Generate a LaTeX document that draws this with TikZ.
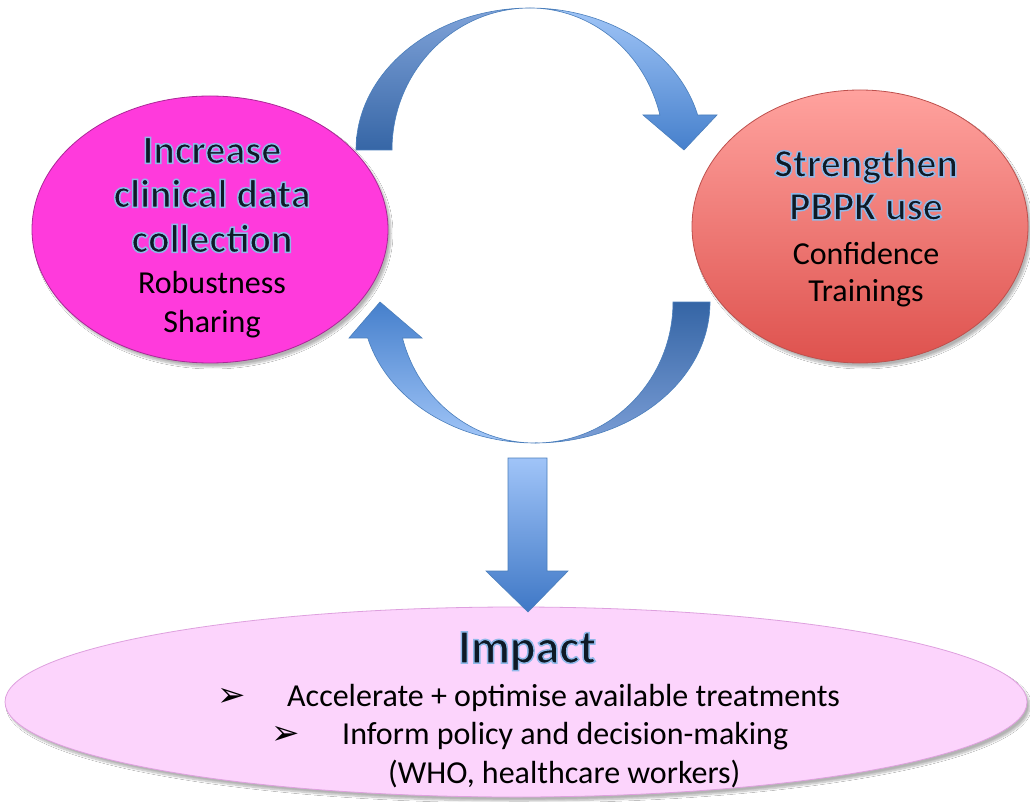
\documentclass[tikz,border=0pt]{standalone}
\usepackage{fontspec}
\setmainfont{Carlito}
\newfontfamily\symfont{DejaVu Sans}
\usepackage{tikz}
\usetikzlibrary{shapes.geometric,positioning,shadows.blur}

\definecolor{titleink}{RGB}{14,26,38}
\definecolor{arrowline}{RGB}{74,126,187}
\definecolor{dataPink}{RGB}{255,58,220}
\definecolor{dataEdge}{RGB}{170,40,150}
\definecolor{pbpkTop}{RGB}{255,162,158}
\definecolor{pbpkBottom}{RGB}{222,82,78}
\definecolor{pbpkEdge}{RGB}{190,80,77}
\definecolor{impactFill}{RGB}{252,212,252}
\definecolor{impactEdge}{RGB}{222,160,222}

\newcommand{\glow}[1]{\special{pdf:literal direct 0.56 0.72 0.91 RG 2 Tr 1.5 w}#1\special{pdf:literal direct 0 Tr 1 w}}
\newcommand{\headfont}{\fontsize{40}{44}\selectfont\bfseries\color{titleink}}
\newcommand{\bulletmark}{{\symfont\fontsize{34}{38}\selectfont ➢}}

\begin{document}
\begin{tikzpicture}[x=1pt, y=-1pt,
    blob/.style={ellipse, draw, line width=0.8pt, inner sep=0pt,
      blur shadow={shadow xshift=3pt, shadow yshift=-4pt, shadow opacity=30, shadow blur steps=8}},
    blobtext/.style={align=center, inner sep=0pt, font=\fontsize{32}{39}\selectfont},
    point/.style={anchor=base west, inner sep=0pt, font=\fontsize{32}{39}\selectfont},
    band/.style={draw=arrowline, line width=0.6pt}
  ]
    \fill[white] (0,0) rectangle (1030,802);
    \useasboundingbox (0,0) rectangle (1030,802);

    \node[blob, fill=dataPink, draw=dataEdge, minimum width=356pt, minimum height=267pt] (collect) at (210,229.5) {};
    \node[blob, top color=pbpkTop, bottom color=pbpkBottom, draw=pbpkEdge, minimum width=336pt, minimum height=273pt] (pbpk) at (860,226.5) {};
    \node[blob, fill=impactFill, draw=impactEdge, minimum width=1022pt, minimum height=190pt] (impact) at (516,702) {};

    \shadedraw[band, top color={rgb,255:red,128;green,163;blue,217}, bottom color={rgb,255:red,54;green,102;blue,166}]
      (356,150) arc[start angle=180, end angle=270, x radius=174, y radius=142]
      arc[start angle=270, end angle=180, x radius=138, y radius=142] -- cycle;
    \shadedraw[band, top color={rgb,255:red,160;green,197;blue,247}, bottom color={rgb,255:red,70;green,128;blue,204}]
      (530,8) arc[start angle=270, end angle=345.73, x radius=173, y radius=142]
      -- (717,115) -- (684,150) -- (643,115) -- (659.9,115)
      arc[start angle=345.73, end angle=270, x radius=134, y radius=142] -- cycle;

    \shadedraw[band, top color={rgb,255:red,53;green,101;blue,165}, bottom color={rgb,255:red,123;green,158;blue,214}]
      (710,302) arc[start angle=0, end angle=90, x radius=175, y radius=141]
      arc[start angle=90, end angle=0, x radius=138, y radius=141] -- cycle;
    \shadedraw[band, top color={rgb,255:red,70;green,128;blue,204}, bottom color={rgb,255:red,162;green,198;blue,248}]
      (535,443) arc[start angle=90, end angle=165.21, x radius=173, y radius=141]
      -- (349,338) -- (380,302) -- (422,338) -- (402.5,338)
      arc[start angle=165.21, end angle=90, x radius=137, y radius=141] -- cycle;

    \shadedraw[band, top color={rgb,255:red,160;green,196;blue,248}, bottom color={rgb,255:red,63;green,120;blue,198}]
      (508,458) -- (547,458) -- (547,571) -- (568,571) -- (528,612) -- (486,571) -- (508,571) -- cycle;

    \node[blobtext] (collecttext) at (212,237.6)
      {{\headfont\glow{Increase}}\\[5pt]{\headfont\glow{clinical data}}\\[6pt]{\headfont\glow{collection}}\\[2pt]Robustness\\Sharing};
    \node[blobtext] (pbpktext) at (866,228)
      {{\headfont\glow{Strengthen}}\\[4pt]{\headfont\glow{PBPK use}}\\[6pt]Confidence\\[-2pt]Trainings};

    \node[anchor=base, inner sep=0pt, font=\fontsize{48}{58}\selectfont\bfseries\color{titleink}] (impacttitle) at (527,663) {\glow{Impact}};
    \node[point] (pointa) at (217,706) {\makebox[70pt][l]{\bulletmark}Accelerate + optimise available treatments};
    \node[point] (pointb) at (271,744) {\makebox[71pt][l]{\bulletmark}Inform policy and decision-making};
    \node[point] (pointc) at (388,783) {(WHO, healthcare workers)};
  \end{tikzpicture}
\end{document}
